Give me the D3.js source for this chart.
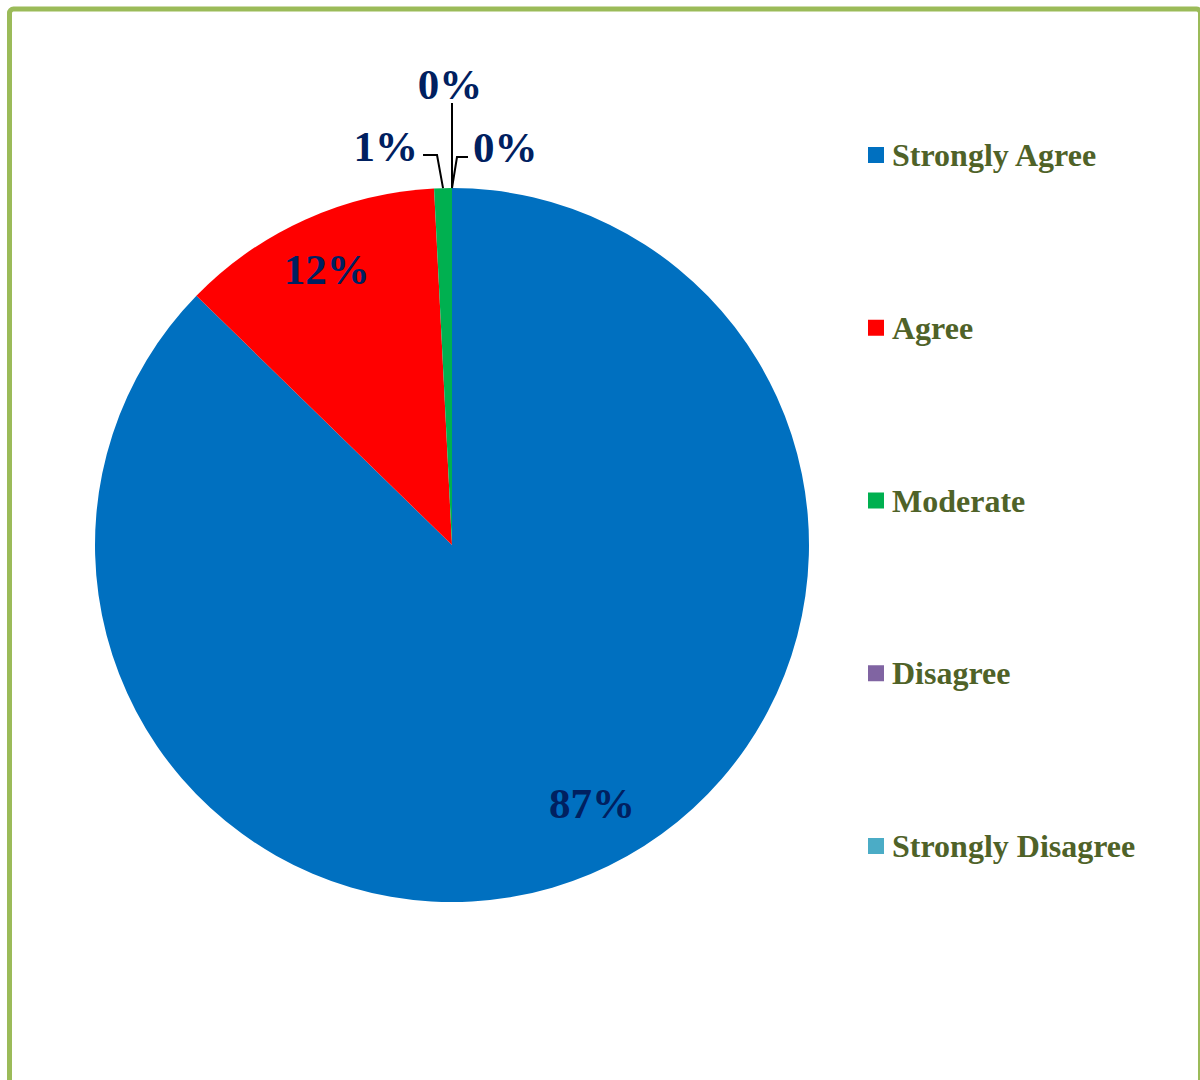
<!DOCTYPE html>
<html>
<head>
<meta charset="utf-8">
<script src="https://cdn.jsdelivr.net/npm/d3@7"></script>
<style>
  html, body { margin: 0; padding: 0; background: #ffffff; }
  svg { display: block; }
</style>
</head>
<body>
<svg id="chart" width="1200" height="1080"></svg>
<script>
// ---- data ----
const categories = ["Strongly Agree", "Agree", "Moderate", "Disagree", "Strongly Disagree"];
const values = [87.3, 11.9, 0.8, 0, 0];
const labels = ["87%", "12%", "1%", "0%", "0%"];
const colors = ["#0070C0", "#FF0000", "#00B050", "#8064A2", "#4BACC6"];

// ---- layout ----
const cx = 452, cy = 545, R = 357;
const labelColor = "#002060";
const legendColor = "#4F6228";
const fontFamily = "'Liberation Serif', 'Times New Roman', serif";
const labelSize = 43;

const svg = d3.select("#chart");

// frame
svg.append("rect")
  .attr("x", 9.5).attr("y", 9).attr("width", 1191).attr("height", 1100)
  .attr("rx", 4)
  .attr("fill", "#ffffff")
  .attr("stroke", "#9BBB59").attr("stroke-width", 5);

const pie = d3.pie().sort(null).value(d => d)(values);
const arc = d3.arc().innerRadius(0).outerRadius(R);

const g = svg.append("g").attr("transform", `translate(${cx},${cy})`);

g.selectAll("path.slice")
  .data(pie)
  .enter().append("path")
  .attr("class", "slice")
  .attr("d", arc)
  .attr("fill", (d, i) => colors[i]);

const insideR = 0.835 * R;
const insideAngleShift = [-0.09, -0.01, 0, 0, 0];
const insideDy = -5;

// outside labels for tiny slices (layout only)
const outside = {
  2: { ex: -6, ey: -33, hx: -14, lx: -5, ly: -9, anchor: "end", straight: false },
  3: { ex: 0, ey: -85, hx: 0, lx: -2, ly: -19, anchor: "middle", straight: true },
  4: { ex: 5, ey: -31, hx: 11, lx: 5, ly: -10, anchor: "start", straight: false }
};

pie.forEach((d, i) => {
  const mid = (d.startAngle + d.endAngle) / 2;
  if (values[i] >= 5) {
    const a = mid + insideAngleShift[i];
    const x = insideR * Math.sin(a);
    const y = -insideR * Math.cos(a) + insideDy;
    g.append("text")
      .attr("x", x).attr("y", y)
      .attr("text-anchor", "middle")
      .attr("dominant-baseline", "central")
      .attr("font-family", fontFamily)
      .attr("font-weight", "bold")
      .attr("font-size", labelSize)
      .attr("fill", labelColor)
      .text(labels[i]);
  } else {
    const o = outside[i];
    const px = R * Math.sin(mid), py = -R * Math.cos(mid);
    const ex = px + o.ex, ey = py + o.ey;
    const pts = o.straight ? [[px, py], [ex, ey]] : [[px, py], [ex, ey], [ex + o.hx, ey]];
    g.append("path")
      .attr("d", d3.line()(pts))
      .attr("fill", "none")
      .attr("stroke", "#000000")
      .attr("stroke-width", 2);
    const endX = pts[pts.length - 1][0], endY = pts[pts.length - 1][1];
    g.append("text")
      .attr("x", endX + o.lx).attr("y", endY + o.ly)
      .attr("text-anchor", o.anchor)
      .attr("dominant-baseline", "central")
      .attr("font-family", fontFamily)
      .attr("font-weight", "bold")
      .attr("font-size", labelSize)
      .attr("fill", labelColor)
      .text(labels[i]);
  }
});

// legend
const legendY = d3.scalePoint().domain(categories).range([155, 846]);
const leg = svg.append("g");
categories.forEach((c, i) => {
  const y = legendY(c);
  leg.append("rect")
    .attr("x", 868).attr("y", y - 8).attr("width", 16).attr("height", 16)
    .attr("fill", colors[i]);
  leg.append("text")
    .attr("x", 892).attr("y", y + 11)
    .attr("font-family", fontFamily)
    .attr("font-weight", "bold")
    .attr("font-size", 32)
    .attr("fill", legendColor)
    .text(c);
});
</script>
</body>
</html>
